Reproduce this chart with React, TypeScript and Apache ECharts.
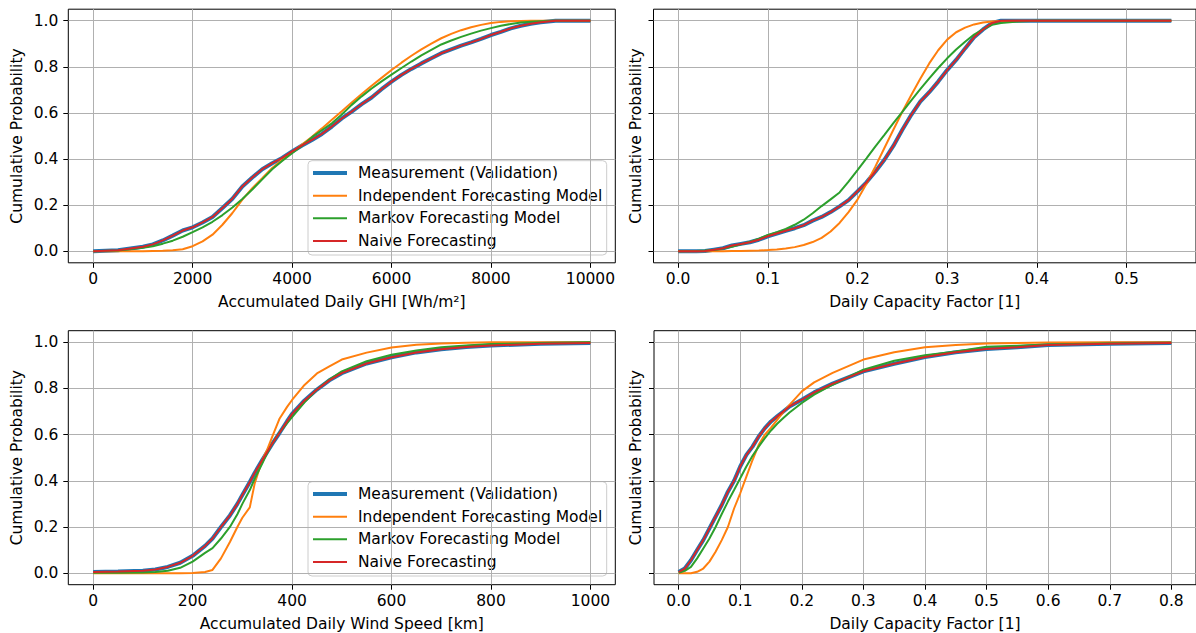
import React, { useEffect, useRef } from 'react';
import * as echarts from 'echarts';

// ---------- Panel 1: Accumulated Daily GHI ----------
const ghiX = [0, 500, 1000, 1200, 1400, 1600, 1800, 2000, 2200, 2400, 2600, 2800, 3000, 3200, 3400, 3600, 3800, 4000, 4200, 4400, 4600, 4800, 5000, 5200, 5400, 5600, 5800, 6000, 6200, 6400, 6600, 6800, 7000, 7200, 7400, 7600, 7800, 8000, 8200, 8400, 8600, 8800, 9000, 9300, 9600, 10000];
const ghiMeas = [0, 0.004, 0.02, 0.03, 0.047, 0.068, 0.09, 0.104, 0.125, 0.149, 0.188, 0.228, 0.281, 0.32, 0.356, 0.382, 0.405, 0.433, 0.459, 0.483, 0.509, 0.541, 0.576, 0.606, 0.638, 0.667, 0.703, 0.736, 0.765, 0.791, 0.815, 0.837, 0.859, 0.876, 0.892, 0.906, 0.921, 0.938, 0.952, 0.967, 0.978, 0.987, 0.993, 1, 1, 1];
const ghiInd = [0, 0, 0, 0.001, 0.002, 0.004, 0.009, 0.022, 0.043, 0.072, 0.115, 0.166, 0.224, 0.274, 0.317, 0.361, 0.397, 0.429, 0.463, 0.497, 0.533, 0.57, 0.607, 0.645, 0.682, 0.718, 0.752, 0.786, 0.818, 0.848, 0.876, 0.901, 0.924, 0.943, 0.959, 0.972, 0.982, 0.99, 0.995, 0.998, 0.999, 1, 1, 1, 1, 1];
const ghiMar = [0, 0.003, 0.015, 0.022, 0.033, 0.046, 0.063, 0.083, 0.104, 0.128, 0.157, 0.19, 0.227, 0.268, 0.312, 0.356, 0.392, 0.425, 0.458, 0.495, 0.525, 0.555, 0.593, 0.635, 0.672, 0.706, 0.737, 0.766, 0.795, 0.823, 0.85, 0.874, 0.897, 0.914, 0.93, 0.944, 0.957, 0.968, 0.978, 0.986, 0.992, 0.996, 0.998, 1, 1, 1];
const ghiNai = [0, 0.004, 0.02, 0.03, 0.047, 0.068, 0.09, 0.104, 0.125, 0.149, 0.188, 0.228, 0.281, 0.32, 0.356, 0.382, 0.405, 0.433, 0.459, 0.483, 0.509, 0.541, 0.576, 0.606, 0.638, 0.667, 0.703, 0.736, 0.765, 0.791, 0.815, 0.837, 0.859, 0.876, 0.892, 0.906, 0.921, 0.938, 0.952, 0.967, 0.978, 0.987, 0.993, 1, 1, 1];
const ghiTicks = [0, 2000, 4000, 6000, 8000, 10000];

// ---------- Panel 2: PV Daily Capacity Factor ----------
const pvX = [0, 0.02, 0.03, 0.04, 0.05, 0.06, 0.07, 0.08, 0.09, 0.1, 0.11, 0.12, 0.13, 0.14, 0.15, 0.16, 0.17, 0.18, 0.19, 0.2, 0.21, 0.22, 0.23, 0.24, 0.25, 0.26, 0.27, 0.28, 0.29, 0.3, 0.31, 0.32, 0.33, 0.34, 0.35, 0.36, 0.38, 0.4, 0.45, 0.5, 0.55];
const pvMeas = [0, 0, 0.001, 0.007, 0.013, 0.025, 0.032, 0.039, 0.05, 0.065, 0.077, 0.089, 0.1, 0.113, 0.133, 0.149, 0.17, 0.195, 0.222, 0.26, 0.299, 0.346, 0.397, 0.457, 0.527, 0.592, 0.649, 0.69, 0.736, 0.786, 0.83, 0.88, 0.928, 0.962, 0.99, 1, 1, 1, 1, 1, 1];
const pvInd = [0, 0, 0, 0, 0, 0.001, 0.001, 0.002, 0.003, 0.005, 0.008, 0.012, 0.018, 0.027, 0.04, 0.058, 0.086, 0.123, 0.17, 0.224, 0.293, 0.368, 0.448, 0.527, 0.605, 0.678, 0.748, 0.815, 0.872, 0.918, 0.95, 0.97, 0.984, 0.992, 0.997, 0.999, 1, 1, 1, 1, 1];
const pvMar = [0, 0.001, 0.003, 0.006, 0.012, 0.02, 0.03, 0.041, 0.055, 0.071, 0.083, 0.097, 0.115, 0.137, 0.165, 0.196, 0.225, 0.255, 0.302, 0.352, 0.403, 0.455, 0.505, 0.556, 0.605, 0.655, 0.703, 0.75, 0.795, 0.837, 0.875, 0.909, 0.94, 0.963, 0.982, 0.99, 0.997, 1, 1, 1, 1];
const pvNai = [0, 0, 0.001, 0.007, 0.013, 0.025, 0.032, 0.039, 0.05, 0.065, 0.077, 0.089, 0.1, 0.113, 0.133, 0.149, 0.17, 0.195, 0.222, 0.26, 0.299, 0.346, 0.397, 0.457, 0.527, 0.592, 0.649, 0.69, 0.736, 0.786, 0.83, 0.88, 0.928, 0.962, 0.99, 1, 1, 1, 1, 1, 1];
const pvTicks = [0, 0.1, 0.2, 0.3, 0.4, 0.5];

// ---------- Panel 3: Accumulated Daily Wind Speed ----------
const wsX = [0, 50, 100, 125, 150, 175, 200, 225, 240, 257, 275, 290, 300, 315, 325, 340, 350, 360, 375, 390, 400, 425, 450, 475, 500, 550, 600, 650, 700, 750, 800, 900, 1000];
const wsMeas = [0.005, 0.007, 0.01, 0.016, 0.027, 0.045, 0.075, 0.118, 0.15, 0.2, 0.25, 0.3, 0.338, 0.395, 0.435, 0.49, 0.525, 0.56, 0.608, 0.658, 0.69, 0.748, 0.795, 0.835, 0.866, 0.908, 0.935, 0.956, 0.97, 0.979, 0.986, 0.993, 0.997];
const wsInd = [0, 0, 0, 0, 0, 0, 0.001, 0.005, 0.014, 0.064, 0.135, 0.2, 0.24, 0.285, 0.39, 0.49, 0.535, 0.59, 0.67, 0.72, 0.75, 0.815, 0.865, 0.895, 0.925, 0.955, 0.977, 0.989, 0.995, 0.998, 1, 1, 1];
const wsMar = [0.002, 0.002, 0.003, 0.005, 0.01, 0.023, 0.05, 0.088, 0.108, 0.15, 0.2, 0.255, 0.3, 0.36, 0.41, 0.475, 0.52, 0.56, 0.61, 0.65, 0.676, 0.74, 0.795, 0.838, 0.874, 0.918, 0.946, 0.964, 0.978, 0.986, 0.992, 0.997, 1];
const wsNai = [0.005, 0.007, 0.01, 0.016, 0.027, 0.045, 0.075, 0.118, 0.15, 0.2, 0.25, 0.3, 0.338, 0.395, 0.435, 0.49, 0.525, 0.56, 0.608, 0.658, 0.69, 0.748, 0.795, 0.835, 0.866, 0.908, 0.935, 0.956, 0.97, 0.979, 0.986, 0.993, 0.997];
const wsTicks = [0, 200, 400, 600, 800, 1000];

// ---------- Panel 4: Wind Daily Capacity Factor ----------
const wcX = [0, 0.01, 0.02, 0.03, 0.04, 0.05, 0.06, 0.07, 0.08, 0.09, 0.1, 0.11, 0.12, 0.13, 0.14, 0.15, 0.16, 0.17, 0.18, 0.2, 0.22, 0.25, 0.3, 0.35, 0.4, 0.45, 0.5, 0.55, 0.6, 0.7, 0.8];
const wcMeas = [0.005, 0.02, 0.056, 0.1, 0.143, 0.194, 0.245, 0.295, 0.353, 0.4, 0.462, 0.512, 0.548, 0.592, 0.628, 0.657, 0.679, 0.7, 0.722, 0.751, 0.783, 0.821, 0.874, 0.907, 0.936, 0.957, 0.971, 0.978, 0.988, 0.993, 0.997];
const wcInd = [0, 0, 0, 0.006, 0.02, 0.05, 0.093, 0.143, 0.2, 0.28, 0.346, 0.418, 0.49, 0.556, 0.6, 0.63, 0.664, 0.697, 0.729, 0.787, 0.826, 0.867, 0.925, 0.957, 0.978, 0.988, 0.995, 0.997, 0.999, 1, 1];
const wcMar = [0.002, 0.01, 0.027, 0.064, 0.107, 0.15, 0.2, 0.256, 0.31, 0.36, 0.411, 0.462, 0.508, 0.548, 0.585, 0.618, 0.647, 0.672, 0.696, 0.737, 0.773, 0.816, 0.881, 0.92, 0.944, 0.96, 0.98, 0.985, 0.99, 0.996, 0.998];
const wcNai = [0.005, 0.02, 0.056, 0.1, 0.143, 0.194, 0.245, 0.295, 0.353, 0.4, 0.462, 0.512, 0.548, 0.592, 0.628, 0.657, 0.679, 0.7, 0.722, 0.751, 0.783, 0.821, 0.874, 0.907, 0.936, 0.957, 0.971, 0.978, 0.988, 0.993, 0.997];
const wcTicks = [0, 0.1, 0.2, 0.3, 0.4, 0.5, 0.6, 0.7, 0.8];

const yTicks = [0, 0.2, 0.4, 0.6, 0.8, 1.0];
const seriesNames = ['Measurement (Validation)', 'Independent Forecasting Model', 'Markov Forecasting Model', 'Naive Forecasting'];
const seriesColors = ['#1f77b4', '#ff7f0e', '#2ca02c', '#d62728'];
const seriesWidths = [4, 2, 2, 2];

const FONT = 'DejaVu Sans';
const FS = 15.5;

const panels = [
  { x: ghiX, ys: [ghiMeas, ghiInd, ghiMar, ghiNai], ticks: ghiTicks, min: -500, max: 10500, name: 'Accumulated Daily GHI [Wh/m²]', grid: { left: 68.3, top: 9.2, width: 547, height: 253.6 }, left: true, fmt: (v: number) => String(Math.round(v)) },
  { x: pvX, ys: [pvMeas, pvInd, pvMar, pvNai], ticks: pvTicks, min: -0.0275, max: 0.5775, name: 'Daily Capacity Factor [1]', grid: { left: 653.5, top: 9.2, width: 546.3, height: 253.6 }, left: false, fmt: (v: number) => v.toFixed(1) },
  { x: wsX, ys: [wsMeas, wsInd, wsMar, wsNai], ticks: wsTicks, min: -50, max: 1050, name: 'Accumulated Daily Wind Speed [km]', grid: { left: 68.3, top: 330.7, width: 547, height: 254 }, left: true, fmt: (v: number) => String(Math.round(v)) },
  { x: wcX, ys: [wcMeas, wcInd, wcMar, wcNai], ticks: wcTicks, min: -0.04, max: 0.84, name: 'Daily Capacity Factor [1]', grid: { left: 654, top: 330.7, width: 546, height: 254 }, left: false, fmt: (v: number) => v.toFixed(1) },
];

function legendGroup(x: number, y: number) {
  const rows = [12.4, 35, 57.6, 80.2];
  const children: any[] = [
    {
      type: 'rect',
      shape: { x: 0, y: 0, width: 298.7, height: 94.3, r: 4 },
      style: { fill: 'rgba(255,255,255,0.8)', stroke: '#cccccc', lineWidth: 1 },
    },
  ];
  rows.forEach((ry, i) => {
    children.push({
      type: 'line',
      shape: { x1: 5, y1: ry, x2: 39, y2: ry },
      style: { stroke: seriesColors[i], lineWidth: seriesWidths[i] },
    });
    children.push({
      type: 'text',
      x: 50,
      y: ry,
      style: { text: seriesNames[i], fill: '#000', font: `${FS}px "${FONT}"`, verticalAlign: 'middle', align: 'left' },
    });
  });
  return { type: 'group', x, y, z: 100, children };
}

export default function App() {
  const ref = useRef<HTMLDivElement>(null);
  useEffect(() => {
    if (!ref.current) return;
    const chart = echarts.init(ref.current, null, { renderer: 'svg' });
    const textStyle = { fontFamily: FONT, fontSize: FS, color: '#000' };
    const option: any = {
      animation: false,
      backgroundColor: '#fff',
      grid: panels.map((p) => ({ ...p.grid, show: true, borderColor: '#000', borderWidth: 1, backgroundColor: 'transparent' })),
      xAxis: panels.map((p, i) => ({
        type: 'value',
        gridIndex: i,
        min: p.min,
        max: p.max,
        axisLine: { show: false, onZero: false },
        axisTick: { show: true, customValues: p.ticks, length: 5, inside: false, lineStyle: { color: '#000', width: 1 } },
        axisLabel: { show: true, customValues: p.ticks, formatter: p.fmt, margin: 8, ...textStyle },
        splitLine: { show: true, lineStyle: { color: '#b0b0b0', width: 1 } },
        name: p.name,
        nameLocation: 'middle',
        nameGap: 31,
        nameTextStyle: textStyle,
      })),
      yAxis: panels.map((p, i) => ({
        type: 'value',
        gridIndex: i,
        min: -0.05,
        max: 1.05,
        axisLine: { show: false, onZero: false },
        axisTick: { show: true, customValues: yTicks, length: 5, inside: false, lineStyle: { color: '#000', width: 1 } },
        axisLabel: { show: p.left, customValues: yTicks, formatter: (v: number) => v.toFixed(1), margin: 10, ...textStyle },
        splitLine: { show: true, lineStyle: { color: '#b0b0b0', width: 1 } },
        name: 'Cumulative Probability',
        nameLocation: 'middle',
        nameGap: p.left ? 43 : 10,
        nameTextStyle: textStyle,
      })),
      series: panels.flatMap((p, i) =>
        p.ys.map((ys, k) => ({
          type: 'line',
          name: seriesNames[k],
          xAxisIndex: i,
          yAxisIndex: i,
          data: p.x.map((xv, j) => [xv, ys[j]]),
          showSymbol: false,
          symbol: 'none',
          lineStyle: { color: seriesColors[k], width: seriesWidths[k] },
          itemStyle: { color: seriesColors[k] },
          z: 2 + k,
        }))
      ),
      graphic: [legendGroup(308, 160.7), legendGroup(308, 481.7)],
    };
    chart.setOption(option);
    return () => chart.dispose();
  }, []);
  return (
    <div
      ref={ref}
      style={{ position: 'absolute', left: 0, top: 0, width: 1196, height: 633, background: '#fff' }}
    />
  );
}
